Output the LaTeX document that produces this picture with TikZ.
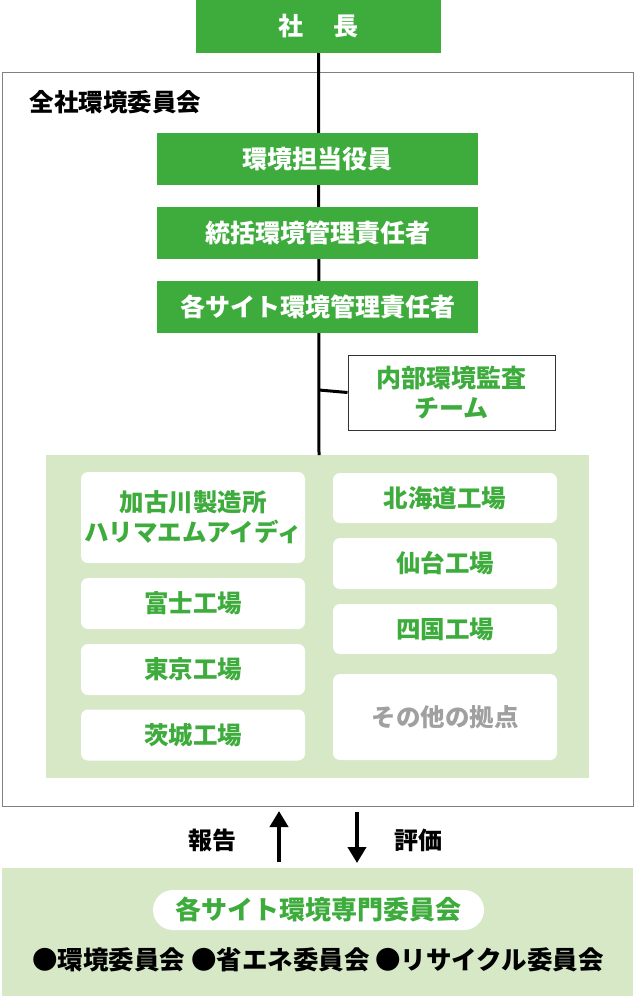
\documentclass[tikz,border=0pt]{standalone}
\usepackage{fontspec}
\setmainfont{Noto Sans CJK JP}
\usetikzlibrary{arrows.meta}
\definecolor{gr}{RGB}{62,172,60}
\definecolor{lg}{RGB}{214,232,198}
\definecolor{gy}{RGB}{160,160,160}
\tikzset{
 gbox/.style={fill=gr,text=white,font=\bfseries\fontsize{25}{29}\selectfont,inner sep=0},
 wbox/.style={fill=white,rounded corners=7pt,text=gr,font=\bfseries\fontsize{24.5}{30}\selectfont,align=center,inner sep=0},
 conn/.style={line width=3pt,black}
}
\begin{document}
\begin{tikzpicture}[x=1pt,y=-1pt]
\useasboundingbox (0,0) rectangle (635,996);
\draw[gray,line width=1pt,fill=white] (2,72) rectangle (633,806);
\node[anchor=west,font=\bfseries\fontsize{24.5}{28}\selectfont] (zen) at (26,102) {全社環境委員会};
\fill[lg] (46,455) rectangle (589,778);
\coordinate (bot) at (319,455);
\coordinate (br) at (319,390);
\node[gbox,minimum width=245pt,minimum height=53pt] (pres) at (318.5,26.5) {社\hspace{1.2em}長};
\draw[conn] (pres.south) -- (bot);
\node[gbox,minimum width=321pt,minimum height=52pt] (a) at (317.5,159) {環境担当役員};
\node[gbox,minimum width=321pt,minimum height=52pt] (b) at (317.5,233) {統括環境管理責任者};
\node[gbox,minimum width=321pt,minimum height=52pt] (c) at (317.5,307) {各サイト環境管理責任者};
\node[draw=black!80,line width=1pt,fill=white,minimum width=207pt,minimum height=75pt,text=gr,font=\bfseries\fontsize{25}{30}\selectfont,align=center,inner sep=0] (audit) at (451.5,392.5) {内部環境監査\\チーム};
\draw[conn] (br) -- (audit.west);
\node[wbox,minimum width=224pt,minimum height=91pt] (l1) at (193,517.5) {加古川製造所\\ハリマエムアイディ};
\node[wbox,minimum width=224pt,minimum height=51pt] (l2) at (193,603.5) {富士工場};
\node[wbox,minimum width=224pt,minimum height=51pt] (l3) at (193,669.5) {東京工場};
\node[wbox,minimum width=224pt,minimum height=51pt] (l4) at (193,735) {茨城工場};
\node[wbox,minimum width=224pt,minimum height=50pt] (r1) at (445,498) {北海道工場};
\node[wbox,minimum width=224pt,minimum height=51pt] (r2) at (445,563.5) {仙台工場};
\node[wbox,minimum width=224pt,minimum height=50pt] (r3) at (445,629) {四国工場};
\node[wbox,minimum width=224pt,minimum height=86pt,text=gy] (r4) at (445,717) {その他の拠点};
\fill[lg] (2,868) rectangle (633,996);
\coordinate (u1) at (279,862); \coordinate (u2) at (279,811);
\coordinate (d1) at (357,812); \coordinate (d2) at (357,863);
\draw[line width=4pt,-{Triangle[length=16pt,width=18pt]}] (u1) -- (u2);
\draw[line width=4pt,-{Triangle[length=16pt,width=18pt]}] (d1) -- (d2);
\node[font=\bfseries\fontsize{24}{28}\selectfont] (hk) at (212,840) {報告};
\node[font=\bfseries\fontsize{24}{28}\selectfont] (hy) at (418,840) {評価};
\node[fill=white,rounded corners=20pt,minimum width=331pt,minimum height=40pt,text=gr,font=\bfseries\fontsize{26}{28}\selectfont,inner sep=0] (sp) at (318.5,910) {各サイト環境専門委員会};
\node[font=\bfseries\fontsize{25.5}{28}\selectfont] (lst) at (318,960) {●環境委員会 ●省エネ委員会 ●リサイクル委員会};
\end{tikzpicture}
\end{document}
